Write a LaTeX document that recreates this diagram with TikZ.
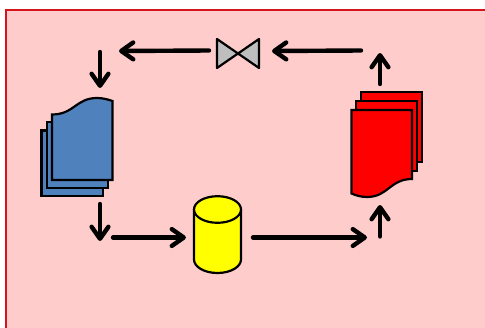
\documentclass[tikz,border=0pt]{standalone}
\usetikzlibrary{arrows.meta,shapes.geometric}
\definecolor{bgpink}{RGB}{255,204,204}
\definecolor{frame}{RGB}{214,20,30}
\definecolor{docblue}{RGB}{79,129,189}
\definecolor{valvegrey}{RGB}{190,190,190}
\definecolor{cylyellow}{RGB}{255,255,0}
\definecolor{docred}{RGB}{255,0,0}
\tikzset{
  flow/.style={line width=4.4pt,line cap=round,-{Straight Barb[round,length=12pt,width=21pt,angle'=70]}},
  sheet/.style={draw=black,line width=2.2pt,line join=miter},
  thin outline/.style={draw=black,line width=2.2pt,line join=round}
}
\begin{document}
\begin{tikzpicture}[x=1pt,y=-1pt]
\useasboundingbox (0,0) rectangle (485,327);
\fill[white] (0,0) rectangle (485,327);
\path[fill=bgpink] (6,10) rectangle (486,328);
\draw[frame,line width=2.2pt] (6,328) -- (6,10) -- (486,10);
% blue stack
\path[sheet,fill=docblue] (41.5,130.5) rectangle (103,196);
\path[sheet,fill=docblue] (47,122) rectangle (108,188);
\path[sheet,fill=docblue] (52,114.5) .. controls (74,114.5) and (76,98) .. (97,98) .. controls (103,98) and (108,99.5) .. (112.5,101) -- (112.5,180) -- (52,180) -- cycle;
% red stack
\path[sheet,fill=docred] (361,92) rectangle (422,162);
\path[sheet,fill=docred] (356,101) rectangle (417,171);
\path[sheet,fill=docred] (351.5,110) -- (412,110) -- (412,179) .. controls (390,179) and (388,197) .. (367,197) .. controls (361,197) and (356,195.5) .. (351.5,193.5) -- cycle;
% cylinder
\path[thin outline,fill=cylyellow] (194,209.5) -- (194,259.5) arc[start angle=180,end angle=0,x radius=23.5,y radius=13.5] -- (241,209.5) -- cycle;
\path[thin outline,fill=cylyellow] (217.5,209.5) ellipse[x radius=23.5,y radius=13.3];
% valve
\path[thin outline,fill=valvegrey] (217,39) -- (259,68) -- (259,39) -- (217,68) -- cycle;
% connectors
\coordinate (a1s) at (209,50.5); \coordinate (a1e) at (119,51);
\coordinate (a2s) at (100,52);   \coordinate (a2e) at (100,88);
\coordinate (a3s) at (361,50.5); \coordinate (a3e) at (272,51);
\coordinate (a4s) at (380,84);   \coordinate (a4e) at (380,53);
\coordinate (a5s) at (100,204);  \coordinate (a5e) at (100,241);
\coordinate (a6s) at (113,237.5);\coordinate (a6e) at (186,237.5);
\coordinate (a7s) at (253,237.5);\coordinate (a7e) at (367,237.5);
\coordinate (a8s) at (380,236.5);\coordinate (a8e) at (380,205);
\foreach \s/\e in {a1s/a1e,a2s/a2e,a3s/a3e,a4s/a4e,a5s/a5e,a6s/a6e,a7s/a7e,a8s/a8e}
  \draw[flow] (\s) -- (\e);
\end{tikzpicture}
\end{document}
